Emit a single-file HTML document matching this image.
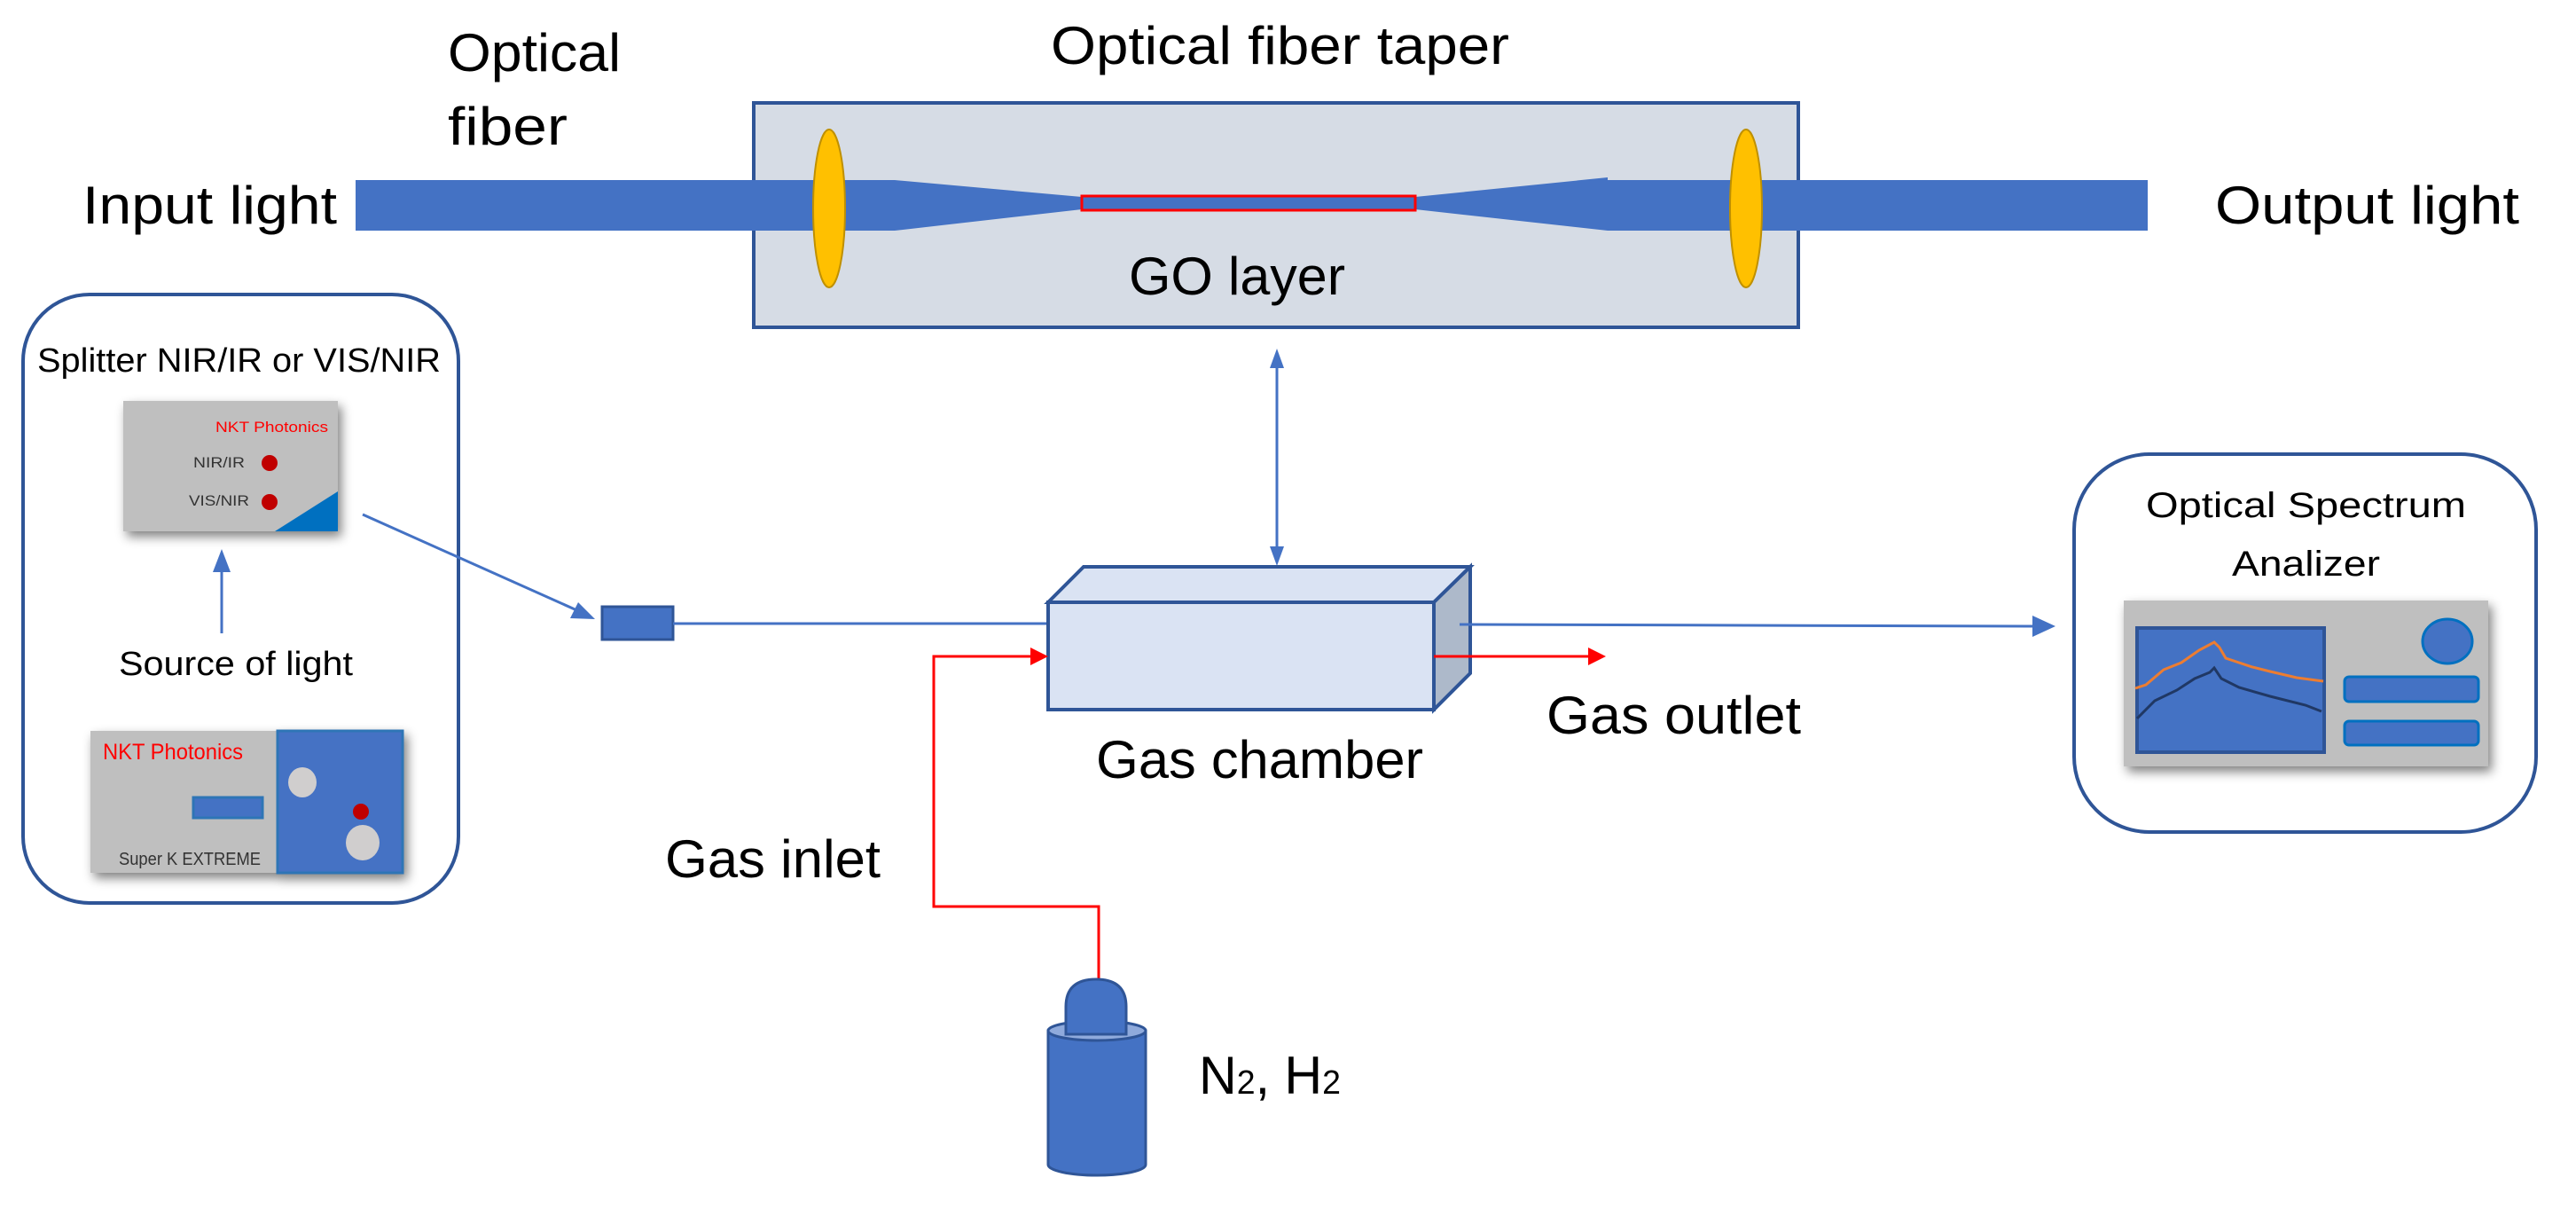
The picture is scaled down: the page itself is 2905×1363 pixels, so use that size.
<!DOCTYPE html>
<html><head><meta charset="utf-8"><style>html,body{margin:0;padding:0;background:#fff}svg{display:block}</style></head>
<body>
<svg width="2905" height="1363" viewBox="0 0 2905 1363" xmlns="http://www.w3.org/2000/svg" font-family="Liberation Sans, sans-serif">
<defs>
<filter id="sh" x="-20%" y="-20%" width="140%" height="140%"><feGaussianBlur in="SourceAlpha" stdDeviation="6"/><feOffset dx="4" dy="6"/><feComponentTransfer><feFuncA type="linear" slope="0.5"/></feComponentTransfer><feMerge><feMergeNode/><feMergeNode in="SourceGraphic"/></feMerge></filter>
</defs>
<!-- top labels -->
<text x="505" y="80" font-size="60" textLength="195" lengthAdjust="spacingAndGlyphs">Optical</text>
<text x="505" y="163" font-size="60" textLength="135" lengthAdjust="spacingAndGlyphs">fiber</text>
<text x="1185" y="72" font-size="60" textLength="517" lengthAdjust="spacingAndGlyphs">Optical fiber taper</text>
<text x="93" y="252" font-size="60" textLength="287" lengthAdjust="spacingAndGlyphs">Input light</text>
<text x="2498" y="252" font-size="60" textLength="343" lengthAdjust="spacingAndGlyphs">Output light</text>
<!-- taper box -->
<rect x="850" y="116" width="1178" height="253" fill="#d6dce5" stroke="#2f5597" stroke-width="4"/>
<!-- fiber -->
<path d="M401,203 L1009,203 L1220,222 L1220,236 L1009,260 L401,260 Z" fill="#4472c4"/>
<path d="M1596,222 L1813,200 L1813,203 L2422,203 L2422,260 L1813,260 L1596,236 Z" fill="#4472c4"/>
<rect x="1220" y="221" width="376" height="16" fill="#4472c4" stroke="#ff0000" stroke-width="3"/>
<ellipse cx="935" cy="235" rx="18" ry="89" fill="#ffc000" stroke="#bf9000" stroke-width="2"/>
<ellipse cx="1969" cy="235" rx="18" ry="89" fill="#ffc000" stroke="#bf9000" stroke-width="2"/>
<text x="1273" y="332" font-size="60" textLength="244" lengthAdjust="spacingAndGlyphs">GO layer</text>
<!-- left box -->
<rect x="26" y="332" width="491" height="686" rx="75" fill="#fff" stroke="#2f5597" stroke-width="4"/>
<text x="42" y="419" font-size="38" textLength="455" lengthAdjust="spacingAndGlyphs">Splitter NIR/IR or VIS/NIR</text>
<g filter="url(#sh)">
<rect x="139" y="452" width="242" height="147" fill="#bfbfbf"/>
<path d="M381,554 L381,599 L310,599 Z" fill="#0070c0"/>
</g>
<text x="243" y="487" font-size="17" fill="#ff0000" textLength="127" lengthAdjust="spacingAndGlyphs">NKT Photonics</text>
<text x="218" y="527" font-size="17" fill="#333" textLength="58" lengthAdjust="spacingAndGlyphs">NIR/IR</text>
<circle cx="304" cy="522" r="9" fill="#c00000"/>
<text x="213" y="570" font-size="17" fill="#333" textLength="68" lengthAdjust="spacingAndGlyphs">VIS/NIR</text>
<circle cx="304" cy="566" r="9" fill="#c00000"/>
<line x1="250" y1="714" x2="250" y2="640" stroke="#4472c4" stroke-width="3"/>
<path d="M250,619 L240,645 L260,645 Z" fill="#4472c4"/>
<text x="134" y="761" font-size="38" textLength="264" lengthAdjust="spacingAndGlyphs">Source of light</text>
<g filter="url(#sh)">
<rect x="102" y="824" width="211" height="160" fill="#bfbfbf"/>
<rect x="313" y="824" width="141" height="160" fill="#4472c4" stroke="#2e75b6" stroke-width="3"/>
</g>
<text x="116" y="856" font-size="25" fill="#ff0000" textLength="158" lengthAdjust="spacingAndGlyphs">NKT Photonics</text>
<rect x="218" y="899" width="78" height="23" fill="#4472c4" stroke="#2e75b6" stroke-width="3"/>
<text x="134" y="975" font-size="20" fill="#333" textLength="160" lengthAdjust="spacingAndGlyphs">Super K EXTREME</text>
<ellipse cx="341" cy="882" rx="16" ry="17" fill="#d0cece"/>
<ellipse cx="409" cy="950" rx="19" ry="20" fill="#d0cece"/>
<circle cx="407" cy="915" r="9" fill="#c00000"/>
<!-- splitter to rect -->
<line x1="409" y1="580" x2="655" y2="690" stroke="#4472c4" stroke-width="3"/>
<path d="M671,698 L643,697 L652,679 Z" fill="#4472c4"/>
<rect x="679" y="684" width="80" height="37" fill="#4472c4" stroke="#2f5597" stroke-width="3"/>
<line x1="759" y1="703" x2="1182" y2="703" stroke="#4472c4" stroke-width="3"/>
<!-- vertical double arrow -->
<line x1="1440" y1="410" x2="1440" y2="622" stroke="#4472c4" stroke-width="3"/>
<path d="M1440,393 L1432,415 L1448,415 Z" fill="#4472c4"/>
<path d="M1440,638 L1432,616 L1448,616 Z" fill="#4472c4"/>
<!-- gas chamber -->
<path d="M1182,679 L1222,639 L1658,639 L1617,679 Z" fill="#dae3f3" stroke="#2f5597" stroke-width="4"/>
<path d="M1617,679 L1658,639 L1658,759 L1617,800 Z" fill="#adb9ca" stroke="#2f5597" stroke-width="4"/>
<rect x="1182" y="679" width="435" height="121" fill="#dae3f3" stroke="#2f5597" stroke-width="4"/>
<text x="1236" y="877" font-size="60" textLength="369" lengthAdjust="spacingAndGlyphs">Gas chamber</text>
<!-- output line -->
<line x1="1646" y1="704" x2="2295" y2="706" stroke="#4472c4" stroke-width="3"/>
<path d="M2318,706 L2292,694 L2292,718 Z" fill="#4472c4"/>
<!-- red gas -->
<polyline points="1239,1104 1239,1022 1053,1022 1053,740 1165,740" fill="none" stroke="#ff0000" stroke-width="3"/>
<path d="M1182,740 L1162,730 L1162,750 Z" fill="#ff0000"/>
<line x1="1617" y1="740" x2="1795" y2="740" stroke="#ff0000" stroke-width="3"/>
<path d="M1811,740 L1791,730 L1791,750 Z" fill="#ff0000"/>
<text x="1744" y="827" font-size="60" textLength="287" lengthAdjust="spacingAndGlyphs">Gas outlet</text>
<text x="750" y="989" font-size="60" textLength="243" lengthAdjust="spacingAndGlyphs">Gas inlet</text>
<!-- cylinder -->
<path d="M1182,1162 L1182,1313 A55,12 0 0 0 1292,1313 L1292,1162 Z" fill="#4472c4" stroke="#2f5597" stroke-width="3"/>
<ellipse cx="1237" cy="1162" rx="55" ry="11" fill="#8faadc" stroke="#2f5597" stroke-width="3"/>
<path d="M1202,1166 L1202,1135 Q1202,1104 1236,1104 Q1270,1104 1270,1135 L1270,1166 Z" fill="#4472c4" stroke="#2f5597" stroke-width="3"/>
<text x="1352" y="1233" font-size="60" textLength="160" lengthAdjust="spacingAndGlyphs">N<tspan font-size="38">2</tspan>, H<tspan font-size="38">2</tspan></text>
<!-- OSA -->
<rect x="2339" y="512" width="521" height="426" rx="85" fill="#fff" stroke="#2f5597" stroke-width="4"/>
<text x="2420" y="583" font-size="40" textLength="361" lengthAdjust="spacingAndGlyphs">Optical Spectrum</text>
<text x="2517" y="649" font-size="40" textLength="167" lengthAdjust="spacingAndGlyphs">Analizer</text>
<g filter="url(#sh)"><rect x="2395" y="677" width="411" height="187" fill="#bfbfbf"/></g>
<rect x="2410" y="708" width="211" height="140" fill="#4472c4" stroke="#2f5597" stroke-width="4"/>
<polyline points="2408,776 2420,772 2440,755 2460,747 2480,733 2497,724 2503,730 2510,742 2540,752 2560,757 2590,764 2620,768" fill="none" stroke="#ed7d31" stroke-width="3"/>
<polyline points="2410,810 2430,790 2455,778 2475,765 2492,758 2497,753 2505,765 2525,775 2560,785 2600,795 2618,802" fill="none" stroke="#203864" stroke-width="3"/>
<ellipse cx="2760" cy="723" rx="28" ry="25" fill="#4472c4" stroke="#0070c0" stroke-width="3"/>
<rect x="2644" y="763" width="151" height="28" rx="5" fill="#4472c4" stroke="#0070c0" stroke-width="3"/>
<rect x="2644" y="813" width="151" height="27" rx="5" fill="#4472c4" stroke="#0070c0" stroke-width="3"/>
</svg>
</body></html>
